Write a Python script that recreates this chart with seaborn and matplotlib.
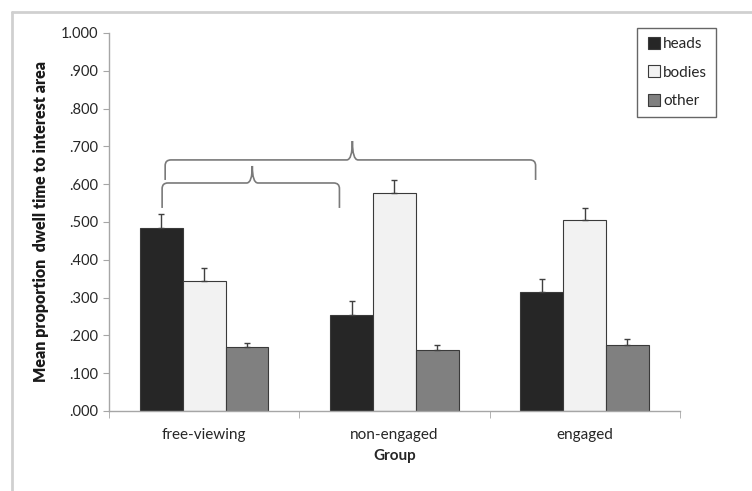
import numpy as np
import pandas as pd
import matplotlib
matplotlib.use("Agg")
import matplotlib.pyplot as plt
from matplotlib.path import Path
from matplotlib.patches import PathPatch
from matplotlib.lines import Line2D
import seaborn as sns

# datos
groups = ['free-viewing', 'non-engaged', 'engaged']
areas = ['heads', 'bodies', 'other']
heads = [0.485, 0.255, 0.315]
bodies = [0.345, 0.577, 0.505]
other = [0.168, 0.160, 0.175]
heads_err = [0.035, 0.035, 0.033]
bodies_err = [0.033, 0.035, 0.031]
other_err = [0.013, 0.015, 0.015]
yticks = [0.0, 0.1, 0.2, 0.3, 0.4, 0.5, 0.6, 0.7, 0.8, 0.9, 1.0]
ytick_labels = ['.000', '.100', '.200', '.300', '.400', '.500', '.600',
                '.700', '.800', '.900', '1.000']

colors = {'heads': '#262626', 'bodies': '#f2f2f2', 'other': '#808080'}


def build_df():
    rows = []
    for area, vals, errs in [('heads', heads, heads_err),
                             ('bodies', bodies, bodies_err),
                             ('other', other, other_err)]:
        for g, v, e in zip(groups, vals, errs):
            rows.append({'Group': g, 'Area': area, 'Mean': v, 'Err': e})
    return pd.DataFrame(rows)


def bracket(ax, x0, x1, xm, y_end, y_h, y_peak):
    # llave horizontal con punta hacia arriba
    rx = 0.03
    ry = 0.015
    verts = [(x0, y_end), (x0, y_h - ry), (x0, y_h), (x0 + rx, y_h),
             (xm - rx, y_h), (xm, y_h), (xm, y_peak),
             (xm, y_h), (xm + rx, y_h),
             (x1 - rx, y_h), (x1, y_h), (x1, y_h - ry), (x1, y_end)]
    codes = [Path.MOVETO, Path.LINETO, Path.CURVE3, Path.CURVE3,
             Path.LINETO, Path.CURVE3, Path.CURVE3,
             Path.CURVE3, Path.CURVE3,
             Path.LINETO, Path.CURVE3, Path.CURVE3, Path.LINETO]
    ax.add_patch(PathPatch(Path(verts, codes), fill=False,
                           edgecolor='#7a7a7a', lw=1.2, clip_on=False))


def main():
    df = build_df()
    sns.set_style('white')
    plt.rcParams['font.family'] = ['Lato', 'DejaVu Sans']

    fig = plt.figure(figsize=(7.52, 4.91), dpi=100)
    ax = fig.add_axes([0.145, 0.163, 0.759, 0.770])

    sns.barplot(data=df, x='Group', y='Mean', hue='Area', hue_order=areas,
                order=groups, palette=colors, width=0.675, errorbar=None,
                edgecolor='#3a3a3a', linewidth=0.8, ax=ax, legend=False)

    # barras de error solo hacia arriba
    for area, container in zip(areas, ax.containers):
        sub = df[df['Area'] == area].set_index('Group').loc[groups]
        xs = [p.get_x() + p.get_width() / 2 for p in container]
        ax.errorbar(xs, sub['Mean'], yerr=[np.zeros(3), sub['Err']],
                    fmt='none', ecolor='#404040', elinewidth=1.0,
                    capsize=2.5, capthick=1.0)

    ax.set_ylim(0, 1.0)
    ax.set_xlim(-0.5, 2.5)
    ax.set_yticks(yticks)
    ax.set_yticklabels(ytick_labels)
    ax.set_xticks([0, 1, 2])
    ax.set_xticklabels(groups)
    ax.set_xticks([-0.5, 0.5, 1.5, 2.5], minor=True)
    ax.tick_params(axis='x', which='major', length=0, pad=12,
                   labelsize=11, labelcolor='#262626')
    ax.tick_params(axis='x', which='minor', length=5, color='#a6a6a6',
                   direction='out', bottom=True)
    ax.tick_params(axis='y', length=4, color='#a6a6a6', direction='out',
                   left=True, labelsize=10.5, labelcolor='#262626', pad=4)

    for s in ['top', 'right']:
        ax.spines[s].set_visible(False)
    for s in ['left', 'bottom']:
        ax.spines[s].set_color('#a6a6a6')
        ax.spines[s].set_linewidth(1.0)

    ax.set_xlabel('Group', fontsize=11, fontweight='bold', labelpad=5,
                  color='#262626')
    ax.set_ylabel('Mean proportion  dwell time to interest area', fontsize=11.5,
                  fontweight='heavy', labelpad=8, color='#1a1a1a')

    # llaves de comparacion
    bracket(ax, -0.221, 0.711, 0.253, 0.537, 0.603, 0.648)
    bracket(ax, -0.205, 1.742, 0.779, 0.611, 0.664, 0.714)

    # leyenda
    handles = [Line2D([], [], marker='s', ls='none', markersize=8,
                      markerfacecolor=colors[a], markeredgecolor='#3a3a3a',
                      markeredgewidth=0.8) for a in areas]
    leg = fig.legend(handles, areas, loc='upper left',
                     bbox_to_anchor=(637 / 752, 1 - 28 / 491),
                     frameon=True, fancybox=False, fontsize=11,
                     labelspacing=0.95, handletextpad=0.1,
                     borderpad=0.6, handlelength=1.0, borderaxespad=0)
    leg.get_frame().set_edgecolor('#404040')
    leg.get_frame().set_linewidth(1.0)

    # marco gris del recorte
    fig.add_artist(Line2D([12 / 752, 12 / 752], [0, 1 - 12 / 491],
                          color='#d0d0d0', lw=2, transform=fig.transFigure))
    fig.add_artist(Line2D([12 / 752, 1], [1 - 12 / 491, 1 - 12 / 491],
                          color='#d0d0d0', lw=2, transform=fig.transFigure))

    fig.savefig('out.png', dpi=100)


if __name__ == '__main__':
    main()
